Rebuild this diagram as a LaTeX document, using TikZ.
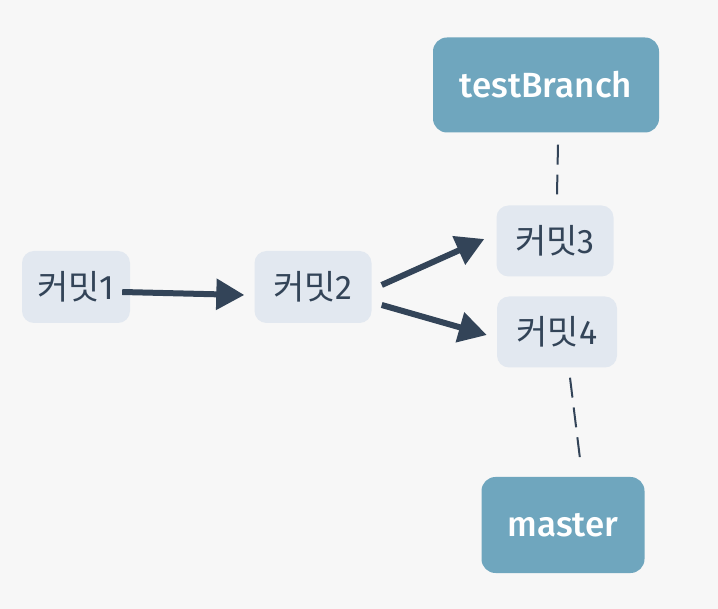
\documentclass[tikz,border=0pt]{standalone}
\usepackage{fontspec}
\setmainfont{Fira Sans}
\newfontfamily\brf{Fira Sans}[UprightFont=* Medium]
\newfontfamily\kr{Noto Sans CJK KR}
\usetikzlibrary{arrows.meta}
\definecolor{bg}{HTML}{F7F7F7}
\definecolor{cfill}{HTML}{E2E8F0}
\definecolor{ink}{HTML}{334458}
\definecolor{bfill}{HTML}{6FA6BE}
\begin{document}
\begin{tikzpicture}[x=1pt,y=-1pt,
  commit/.style={fill=cfill,rounded corners=12pt,inner sep=0pt,text=ink,font=\fontsize{34}{36}\selectfont,minimum height=72pt},
  branch/.style={fill=bfill,rounded corners=14pt,inner sep=0pt,text=white,font=\fontsize{35}{37}\selectfont\brf,minimum height=95pt},
  arr/.style={draw=ink,line width=6pt,-{Triangle[length=28pt,width=30pt]}}]
\fill[bg] (0,0) rectangle (718,609);
\useasboundingbox (0,0) rectangle (718,609);
\node[commit,minimum width=108pt] (c1) at (76,287) {{\kr 커밋}1};
\node[commit,minimum width=117pt] (c2) at (313,287) {{\kr 커밋}2};
\node[commit,minimum width=117pt,minimum height=71pt] (c3) at (555,241) {{\kr 커밋}3};
\node[commit,minimum width=120pt,minimum height=71pt] (c4) at (557,332) {{\kr 커밋}4};
\node[branch,minimum width=226pt] (tb) at (546,85) {testBranch};
\node[branch,minimum width=163pt,minimum height=96pt] (ms) at (563,525) {master};
\draw[arr] ([shift={(-8pt,-5pt)}]c1.east) -- ([shift={(-10pt,-8pt)}]c2.west);
\draw[arr] ([shift={(10pt,2pt)}]c2.east) -- ([shift={(-12pt,2pt)}]c3.west);
\draw[arr] ([shift={(10pt,-18pt)}]c2.east) -- ([shift={(-10pt,-3pt)}]c4.west);
\draw[ink,line width=2pt,dash pattern=on 20pt off 10pt] ([shift={(12pt,-12pt)}]tb.south) -- ([shift={(2pt,11pt)}]c3.north);
\draw[ink,line width=2pt,dash pattern=on 20pt off 10pt] ([shift={(13pt,-10pt)}]c4.south) -- ([shift={(18pt,10pt)}]ms.north);
\end{tikzpicture}
\end{document}
